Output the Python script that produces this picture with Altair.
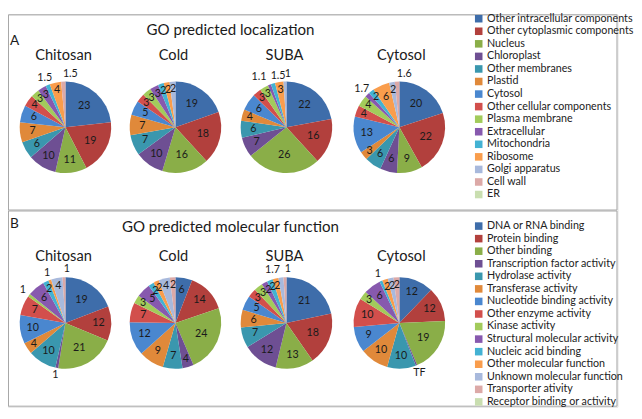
import altair as alt
import pandas as pd
import math

conditions = ["Chitosan", "Cold", "SUBA", "Cytosol"]

loc_categories = [
    "Other intracellular components", "Other cytoplasmic components", "Nucleus",
    "Chloroplast", "Other membranes", "Plastid", "Cytosol", "Other cellular components",
    "Plasma membrane", "Extracellular", "Mitochondria", "Ribosome", "Golgi apparatus",
    "Cell wall", "ER",
]
loc_chitosan = [23, 19, 11, 10, 6, 7, 6, 4, 3, 3, 1.5, 4, 0, 1.5, 0]
loc_cold = [19, 18, 16, 10, 7, 7, 5, 3, 3, 3, 2, 2, 2, 0, 0]
loc_suba = [22, 16, 26, 7, 6, 4, 6, 3, 3, 1.1, 1.5, 3, 1, 0, 0]
loc_cytosol = [20, 22, 9, 6, 6, 3, 13, 4, 4, 1.7, 2, 6, 2, 1.6, 0]

mf_categories = [
    "DNA or RNA binding", "Protein binding", "Other binding", "Transcription factor activity",
    "Hydrolase activity", "Transferase activity", "Nucleotide binding activity",
    "Other enzyme activity", "Kinase activity", "Structural molecular activity",
    "Nucleic acid binding", "Other molecular function", "Unknown molecular function",
    "Transporter ativity", "Receptor binding or activity",
]
mf_chitosan = [19, 12, 21, 1, 10, 4, 10, 7, 1, 6, 2, 1, 4, 1, 0]
mf_cold = [6, 14, 24, 4, 7, 9, 12, 7, 3, 5, 2, 2, 4, 2, 0]
mf_suba = [21, 18, 13, 12, 7, 6, 5, 3, 3, 2, 2, 2, 1.7, 1, 0]
mf_cytosol = [12, 12, 19, 0.5, 10, 10, 9, 10, 3, 6, 1, 2, 2, 2, 0]
mf_cytosol_labels = {3: "TF"}

palette = ["#3E6DAA", "#B2403D", "#8AAE48", "#6E4F93", "#3A97AE", "#E0893A",
           "#4A87CF", "#D24F4C", "#A2CB5B", "#8759AE", "#43B2D3", "#F99D4C",
           "#A8B9DC", "#DCA9A7", "#C9DEB0"]

FONT = "Lato"
INK = "#1b1b1b"
R = 47
PIE_X = [59, 172, 286, 402]
SUB_X = [57, 170, 284, 404]
TWO_PI = 2 * math.pi
W, H = 626, 403


def fmt(v):
    if v == 0:
        return ""
    return str(int(v)) if float(v).is_integer() else str(v)


def frame(cats, values, overrides=None):
    overrides = overrides or {}
    return pd.DataFrame({
        "category": cats,
        "order": list(range(len(cats))),
        "value": values,
        "label": [overrides.get(i, fmt(v)) for i, v in enumerate(values)],
    })


def text_layer(s, x, y, size, align="center"):
    return alt.Chart(pd.DataFrame({"t": [s]})).mark_text(
        font=FONT, fontSize=size, color=INK, align=align
    ).encode(text="t:N", x=alt.value(x), y=alt.value(y))


def make_panel(cats, series, title, letter, box, cy, sub_y, title_y, letter_y, legend_y):
    theta_scale = alt.Scale(domain=[0, 1], range=[0, TWO_PI])
    color = alt.Color(
        "category:N",
        scale=alt.Scale(domain=cats, range=palette),
        legend=alt.Legend(
            title=None, orient="none", legendX=478, legendY=legend_y,
            symbolType="square", symbolSize=60, symbolStrokeWidth=0,
            labelFont=FONT, labelFontSize=11, labelColor="#222",
            rowPadding=0.9, labelOffset=3, padding=0, labelLimit=200,
        ),
    )
    frame_box = alt.Chart(pd.DataFrame({"b": [0]})).mark_rect(
        fill=None, stroke="#a6a6a6", strokeWidth=1
    ).encode(x=alt.value(0.5), x2=alt.value(W - 0.5), y=alt.value(box[0]), y2=alt.value(box[1]))
    layers = [frame_box]
    for cx, df in zip(PIE_X, series):
        base = alt.Chart(df)
        arc = base.mark_arc(outerRadius=R).encode(
            theta=alt.Theta("value:Q", stack="normalize", scale=theta_scale),
            color=color,
            order=alt.Order("order:Q"),
            x=alt.value(cx), y=alt.value(cy),
        )
        lab = base.transform_joinaggregate(
            total="sum(value)"
        ).transform_window(
            cum="sum(value)", sort=[alt.SortField("order")], frame=[None, 0]
        ).transform_window(
            prev="lag(value)", nxt="lead(value)", sort=[alt.SortField("order")]
        ).transform_calculate(
            mid="(datum.cum - datum.value / 2) / datum.total",
            out="datum.value > 0 && datum.value < 2",
            lr="datum.value < 2 ? 55 : (datum.value < 5 ? 39 : (datum.value < 15 ? 34 : 29))",
        ).transform_calculate(
            al="datum.out && ((datum.prev > 0 && datum.prev < 2) || datum.mid > 0.985) ? 'left' : "
               "(datum.out && datum.nxt > 0 && datum.nxt < 2 ? 'right' : 'center')"
        )
        for align in ("center", "left", "right"):
            txt = lab.transform_filter(alt.datum.al == align).mark_text(
                font=FONT, fontSize=11, color=INK, align=align
            ).encode(
                theta=alt.Theta("mid:Q", stack=None, scale=theta_scale),
                radius=alt.Radius("lr:Q", scale=None),
                text="label:N",
                x=alt.value(cx), y=alt.value(cy),
            )
            layers.append(txt)
        layers.insert(1, arc)
    layers += [text_layer(c, sx, sub_y, 15) for c, sx in zip(conditions, SUB_X)]
    layers += [text_layer(title, 228.5, title_y, 15.5), text_layer(letter, 2, letter_y, 14, "left")]
    return alt.layer(*layers)


loc_series = [frame(loc_categories, v) for v in (loc_chitosan, loc_cold, loc_suba, loc_cytosol)]
mf_series = [frame(mf_categories, mf_chitosan), frame(mf_categories, mf_cold),
             frame(mf_categories, mf_suba), frame(mf_categories, mf_cytosol, mf_cytosol_labels)]

panel_a = make_panel(loc_categories, loc_series, "GO predicted localization", "A",
                     (0.5, 201), 116, 42, 16, 27, -1)
panel_b = make_panel(mf_categories, mf_series, "GO predicted molecular function", "B",
                     (202, 402.5), 317, 248, 219, 215, 212)

chart = alt.layer(panel_a, panel_b).resolve_scale(color="independent").resolve_legend(
    color="independent"
).properties(width=W, height=H, padding=0).configure_view(stroke=None).configure(
    background="white"
)

chart.save("out.html", embed_options={"renderer": "svg", "actions": False})
